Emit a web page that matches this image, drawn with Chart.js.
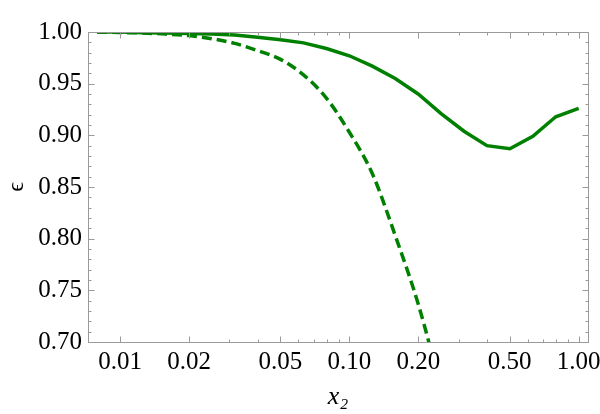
<!DOCTYPE html>
<html>
<head>
<meta charset="utf-8">
<script src="https://cdn.jsdelivr.net/npm/chart.js@4/dist/chart.umd.min.js"></script>
<style>
  html, body { margin: 0; padding: 0; background: #fff; }
  #wrap { width: 600px; height: 414px; position: relative; }
</style>
</head>
<body>
<div id="wrap"><canvas id="c" width="600" height="414"></canvas></div>
<script>
// ---- data ----
const xValues = [0.00794, 0.01, 0.01259, 0.01585, 0.01995, 0.02512, 0.03162, 0.03981, 0.05012, 0.0631, 0.07943, 0.1, 0.1259, 0.1585, 0.1995, 0.2512, 0.3162, 0.3981, 0.5012, 0.631, 0.7943, 1.0];
const solidValues = [1.000, 1.000, 0.9993, 0.999, 0.9985, 0.998, 0.997, 0.995, 0.9925, 0.9895, 0.984, 0.977, 0.967, 0.955, 0.940, 0.921, 0.904, 0.890, 0.887, 0.899, 0.918, 0.926];
const dashedValues = [1.000, 0.9995, 0.999, 0.998, 0.9965, 0.9935, 0.989, 0.982, 0.9735, 0.9585, 0.936, 0.903, 0.863, 0.803, 0.737, 0.655];
const xMajorTicks = [0.01, 0.02, 0.05, 0.1, 0.2, 0.5, 1.0];
const xMinorTicks = [0.03, 0.04, 0.06, 0.07, 0.08, 0.09, 0.3, 0.4, 0.6, 0.7, 0.8, 0.9];
const yMajorTicks = [0.70, 0.75, 0.80, 0.85, 0.90, 0.95, 1.00];
const yMinorStep = 0.01;

const green = '#008000';
const frameColor = '#9a9a9a';
const serif = "'Liberation Serif', 'DejaVu Serif', serif";

const solidPts = xValues.map((x, i) => ({ x: x, y: solidValues[i] }));
const dashedPts = dashedValues.map((y, i) => ({ x: xValues[i], y: y }));

const framePlugin = {
  id: 'frameTicks',
  afterDatasetsDraw(chart) {
    const ctx = chart.ctx;
    const a = chart.chartArea;
    const xs = chart.scales.x, ys = chart.scales.y;
    ctx.save();
    ctx.strokeStyle = frameColor;
    ctx.lineWidth = 1;
    const L = Math.round(a.left) + 0.5, R = Math.round(a.right) + 0.5;
    const T = Math.round(a.top) + 0.5, B = Math.round(a.bottom) + 0.5;
    ctx.strokeRect(L, T, R - L, B - T);
    ctx.beginPath();
    const xt = (v, len) => {
      const p = Math.round(xs.getPixelForValue(v)) + 0.5;
      ctx.moveTo(p, B); ctx.lineTo(p, B - len);
      ctx.moveTo(p, T); ctx.lineTo(p, T + len);
    };
    const yt = (v, len) => {
      const p = Math.round(ys.getPixelForValue(v)) + 0.5;
      ctx.moveTo(L, p); ctx.lineTo(L + len, p);
      ctx.moveTo(R, p); ctx.lineTo(R - len, p);
    };
    xMajorTicks.forEach(v => xt(v, 6));
    xMinorTicks.forEach(v => xt(v, 3));
    yMajorTicks.forEach(v => yt(v, 6));
    for (let k = 0; k <= 30; k++) {
      const v = 0.70 + k * yMinorStep;
      if (k % 5 !== 0) yt(v, 3);
    }
    ctx.stroke();
    ctx.restore();
  }
};

new Chart(document.getElementById('c'), {
  type: 'line',
  data: {
    datasets: [
      { data: solidPts, borderColor: green, borderWidth: 3.5, pointRadius: 0, tension: 0, fill: false },
      { data: dashedPts, borderColor: green, borderWidth: 3.5, borderDash: [10, 5], pointRadius: 0, cubicInterpolationMode: 'monotone', fill: false }
    ]
  },
  options: {
    responsive: false,
    animation: false,
    devicePixelRatio: 1,
    layout: { padding: { top: 32, right: 12, left: 0, bottom: 0 } },
    plugins: { legend: { display: false }, tooltip: { enabled: false } },
    scales: {
      x: {
        type: 'logarithmic',
        min: 0.00725,
        max: 1.098,
        grid: { display: false, drawTicks: false },
        border: { display: false },
        afterBuildTicks: s => { s.ticks = xMajorTicks.map(v => ({ value: v })); },
        afterFit: s => { s.height = 72; s.paddingLeft = 0; s.paddingRight = 0; },
        ticks: {
          autoSkip: false, maxRotation: 0, padding: 5,
          color: '#000', font: { family: serif, size: 25 },
          callback: v => Number(v).toFixed(2)
        },
        title: {
          display: true, text: 'x₂', color: '#000',
          font: { family: serif, size: 26, style: 'italic' },
          padding: { top: 0, bottom: 1 }
        }
      },
      y: {
        min: 0.70,
        max: 1.00,
        grid: { display: false, drawTicks: false },
        border: { display: false },
        afterBuildTicks: s => { s.ticks = yMajorTicks.map(v => ({ value: v })); },
        afterFit: s => { s.width = 88; s.paddingTop = 0; s.paddingBottom = 0; },
        ticks: {
          padding: 6, color: '#000', font: { family: serif, size: 25 },
          callback: v => Number(v).toFixed(2)
        },
        title: {
          display: true, text: 'ϵ', color: '#000',
          font: { family: serif, size: 24 },
          padding: { top: 2, bottom: 0 }
        }
      }
    }
  },
  plugins: [framePlugin]
});
</script>
</body>
</html>
